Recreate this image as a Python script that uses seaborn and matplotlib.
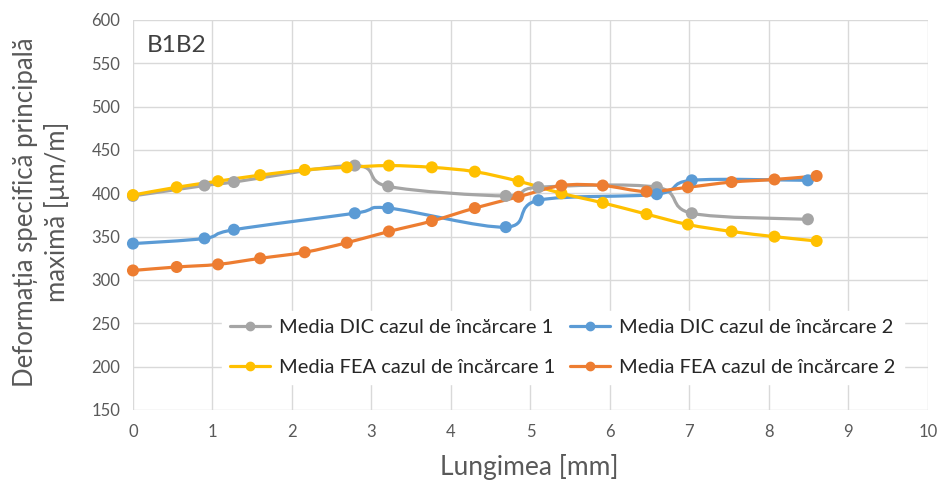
import numpy as np
import pandas as pd
import seaborn as sns
import matplotlib
matplotlib.use("Agg")
import matplotlib.pyplot as plt
from matplotlib.path import Path
from matplotlib.patches import PathPatch
from matplotlib.lines import Line2D

# Measured values: length along the specimen [mm] vs max principal strain [µm/m]
x_dic1 = [0.0, 0.90, 1.27, 2.79, 3.21, 4.69, 5.10, 6.59, 7.03, 8.49]
y_dic1 = [397, 409, 413, 432, 408, 397, 407, 407, 377, 370]

x_dic2 = [0.0, 0.90, 1.27, 2.79, 3.21, 4.69, 5.10, 6.59, 7.03, 8.49]
y_dic2 = [342, 348, 358, 377, 383, 361, 392, 399, 415, 415]

x_fea = [0.0, 0.55, 1.07, 1.60, 2.16, 2.69, 3.22, 3.76, 4.30, 4.85, 5.39, 5.91, 6.46, 6.98, 7.53, 8.07, 8.60]
y_fea1 = [398, 407, 414, 421, 427, 430, 432, 430, 425, 414, 400, 389, 376, 364, 356, 350, 345]
y_fea2 = [311, 315, 318, 325, 332, 343, 356, 368, 383, 396, 409, 409, 402, 407, 413, 416, 420]

labels = ["Media DIC cazul de încărcare 1", "Media DIC cazul de încărcare 2",
          "Media FEA cazul de încărcare 1", "Media FEA cazul de încărcare 2"]
colors = ["#A5A5A5", "#5B9BD5", "#FFC000", "#ED7D31"]

frames = []
for lab, xs, ys in zip(labels, [x_dic1, x_dic2, x_fea, x_fea], [y_dic1, y_dic2, y_fea1, y_fea2]):
    frames.append(pd.DataFrame({"Lungimea": xs, "Deformatia": ys, "Serie": lab}))
df = pd.concat(frames, ignore_index=True)

sns.set_theme(style="white")
plt.rcParams["font.family"] = ["Lato", "DejaVu Sans"]

fig = plt.figure(figsize=(9.41, 4.84), dpi=100)
ax = fig.add_axes([0.1413, 0.1529, 0.8448, 0.8058])


def smooth_path(xs, ys):
    """Cubic Bezier path through the points (Catmull-Rom tangents)."""
    pts = np.column_stack([xs, ys]).astype(float)
    n = len(pts)
    verts = [pts[0]]
    codes = [Path.MOVETO]
    for i in range(n - 1):
        p0 = pts[i - 1] if i > 0 else pts[i]
        p1 = pts[i]
        p2 = pts[i + 1]
        p3 = pts[i + 2] if i + 2 < n else pts[i + 1]
        c1 = p1 + (p2 - p0) / 6.0
        c2 = p2 - (p3 - p1) / 6.0
        verts += [c1, c2, p2]
        codes += [Path.CURVE4] * 3
    return Path(verts, codes)


for lab, col in zip(labels, colors):
    sub = df[df["Serie"] == lab]
    ax.add_patch(PathPatch(smooth_path(sub["Lungimea"].values, sub["Deformatia"].values),
                           facecolor="none", edgecolor=col, lw=2.3, zorder=3,
                           capstyle="round", joinstyle="round"))

sns.scatterplot(data=df, x="Lungimea", y="Deformatia", hue="Serie", hue_order=labels,
                palette=colors, s=75, edgecolor="none", legend=False, ax=ax, zorder=4,
                clip_on=False)

ax.set_xlim(0, 10)
ax.set_ylim(150, 600)
ax.set_xticks(np.arange(0, 11, 1))
ax.set_yticks(np.arange(150, 601, 50))
ax.grid(True, color="#D9D9D9", lw=1)
for s in ax.spines.values():
    s.set_visible(False)
ax.tick_params(axis="both", labelsize=12, colors="#595959", length=0)
ax.tick_params(axis="x", pad=10)
ax.tick_params(axis="y", pad=9)
ax.set_xlabel("")
ax.set_ylabel("")

fig.text(0.562, 0.036, "Lungimea [mm]", fontsize=19, color="#595959",
         ha="center", va="center")
fig.text(0.044, 0.562, "Deformația specifică principală\nmaximă [µm/m]", fontsize=18.5,
         color="#595959", ha="center", va="center", rotation=90,
         multialignment="center", linespacing=1.3)

ax.text(0.017, 0.935, "B1B2", transform=ax.transAxes, fontsize=17.5, color="#404040",
        ha="left", va="center")

# two columns: DIC in the first row, FEA in the second
order = [0, 2, 1, 3]
handles = [Line2D([0], [0], color=colors[i], lw=2.3, marker="o", markersize=6) for i in order]
leg = ax.legend(handles, [labels[i] for i in order], loc="upper left",
                bbox_to_anchor=(0.112, 0.255), ncol=2, frameon=True, fontsize=14.5,
                handlelength=2.0, columnspacing=0.7, labelspacing=1.15, borderpad=0.4,
                handletextpad=0.45, borderaxespad=0)
leg.get_frame().set_facecolor("white")
leg.get_frame().set_edgecolor("white")
leg.get_frame().set_alpha(1.0)
leg.get_frame().set_boxstyle("square", pad=0)
for t in leg.get_texts():
    t.set_color("#262626")

fig.savefig("out.png", dpi=100)
